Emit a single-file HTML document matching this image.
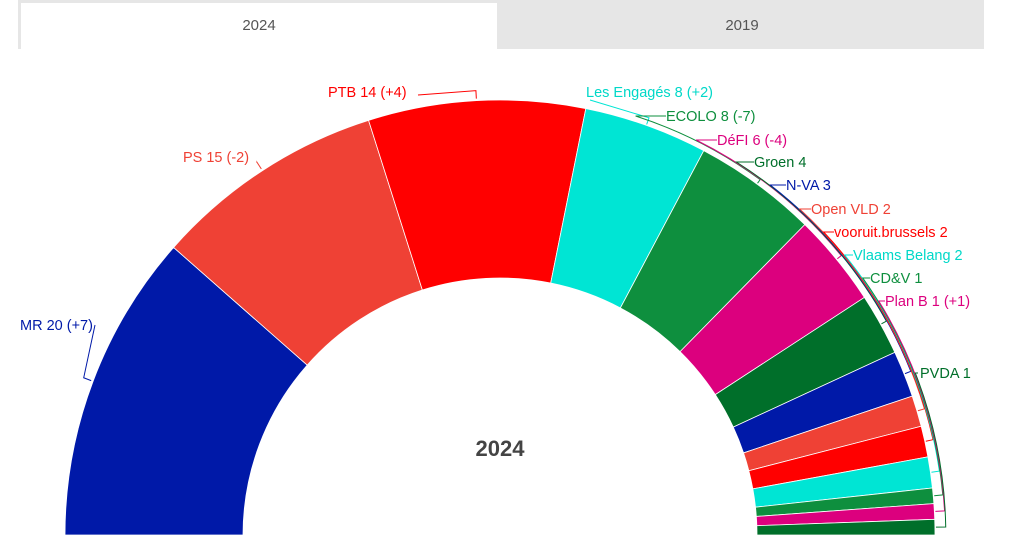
<!DOCTYPE html>
<html><head><meta charset="utf-8"><style>
body{margin:0;background:#fff;width:1020px;height:560px;overflow:hidden;font-family:"Liberation Sans",sans-serif}
</style></head><body>
<svg width="1020" height="560" xmlns="http://www.w3.org/2000/svg" style="position:absolute;left:0;top:0">
<rect x="18" y="0" width="966" height="49" fill="#e6e6e6"/>
<rect x="21" y="3" width="476" height="46" fill="#fff"/>
<text x="259" y="30" font-size="15" fill="#555" text-anchor="middle" font-family="Liberation Sans, sans-serif">2024</text>
<text x="742" y="30" font-size="15" fill="#555" text-anchor="middle" font-family="Liberation Sans, sans-serif">2019</text>
<g id="w"></g>
<g id="l" fill="none" stroke-width="1"></g>
<text x="500" y="456" font-size="22" font-weight="bold" fill="#444" text-anchor="middle" font-family="Liberation Sans, sans-serif">2024</text>
<g font-size="14.5" font-family="Liberation Sans, sans-serif">
<text x="20" y="330" fill="#0019a8">MR 20 (+7)</text>
<text x="183" y="162" fill="#ef4135">PS 15 (-2)</text>
<text x="328" y="97" fill="#ff0000">PTB 14 (+4)</text>
<text x="586" y="97" fill="#00d8c8">Les Engagés 8 (+2)</text>
<text x="666" y="121" fill="#0e8f3e">ECOLO 8 (-7)</text>
<text x="717" y="145" fill="#dc007e">DéFI 6 (-4)</text>
<text x="754" y="167" fill="#006f2a">Groen 4</text>
<text x="786" y="190" fill="#0019a8">N-VA 3</text>
<text x="811" y="214" fill="#ef4135">Open VLD 2</text>
<text x="834" y="237" fill="#ff0000">vooruit.brussels 2</text>
<text x="853" y="260" fill="#00d8c8">Vlaams Belang 2</text>
<text x="870" y="283" fill="#0e8f3e">CD&amp;V 1</text>
<text x="885" y="306" fill="#dc007e">Plan B 1 (+1)</text>
<text x="920" y="378" fill="#006f2a">PVDA 1</text>
</g>
</svg>
<script>
var d=[[20,"#0019a8"],[15,"#ef4135"],[14,"#ff0000"],[8,"#00e5d4"],[8,"#0e8f3e"],[6,"#dc007e"],[4,"#006f2a"],[3,"#0019a8"],[2,"#ef4135"],[2,"#ff0000"],[2,"#00e5d4"],[1,"#0e8f3e"],[1,"#dc007e"],[1,"#006f2a"]];
var cx=500,cy=535,R=435,r=257,tot=87,a=Math.PI,g=document.getElementById("w"),l=document.getElementById("l");
var lab=[[95,325],[257,163],[418,95],[590,100],[666,116],[717,140],[754,162],[786,185],[811,209],[834,232],[853,255],[870,278],[885,301],[918,373]];
function P(rad,t){return (cx+rad*Math.cos(t)).toFixed(2)+","+(cy-rad*Math.sin(t)).toFixed(2)}
var NS="http://www.w3.org/2000/svg";
d.forEach(function(s,i){var b=a-s[0]/tot*Math.PI;
var p=document.createElementNS(NS,"path");
p.setAttribute("d","M"+P(r,a)+"L"+P(R,a)+"A"+R+","+R+" 0 0 1 "+P(R,b)+"L"+P(r,b)+"A"+r+","+r+" 0 0 0 "+P(r,a)+"Z");
p.setAttribute("fill",s[1]);p.setAttribute("stroke","#fff");p.setAttribute("stroke-width","0.8");g.appendChild(p);
var m=(a+b)/2,L=lab[i],q=document.createElementNS(NS,"path"),dd;
if(i<3){dd="M"+P(R+2,m)+"L"+P(R+10,m)+"L"+L[0]+","+L[1];}
else if(i==3){dd="M"+P(R+1,m)+"L"+P(R+8,m)+"L"+L[0]+","+L[1];}
else{var rr=R+3+i*0.6;var t=Math.asin(Math.min(1,(cy-L[1])/rr));
if(t>m){dd="M"+P(R+1,m)+"L"+P(rr,m)+"A"+rr+","+rr+" 0 0 0 "+P(rr,t)+"L"+L[0]+","+L[1];}
else{dd="M"+P(R+1,m)+"L"+P(rr,m)+"L"+L[0]+","+L[1];}}
q.setAttribute("d",dd);q.setAttribute("stroke",s[1]);q.setAttribute("fill","none");l.appendChild(q);a=b;});
</script>
</body></html>
